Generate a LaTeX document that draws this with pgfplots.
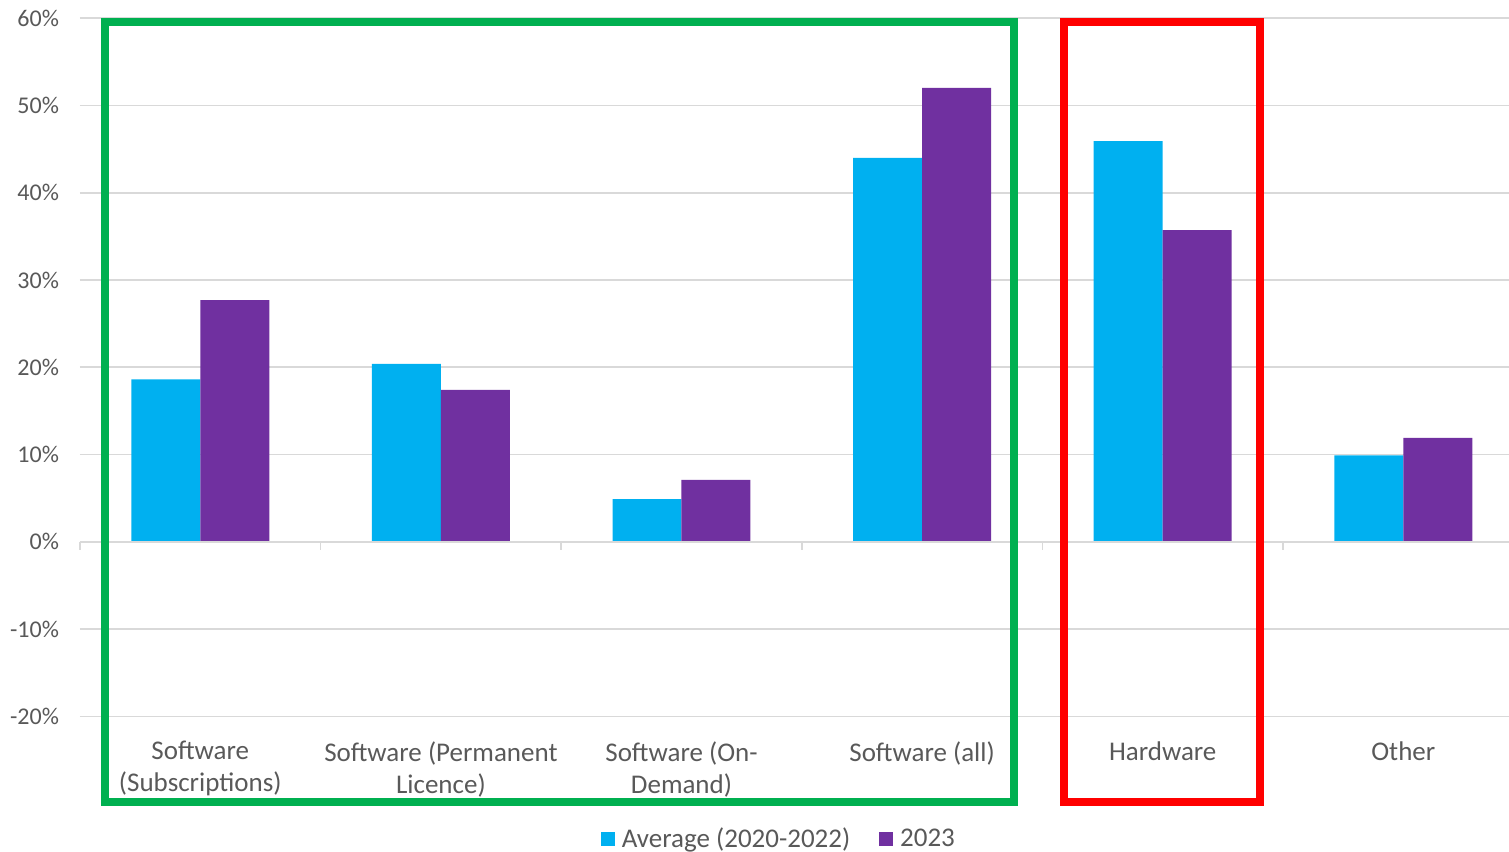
\documentclass[border=0pt]{standalone}
\usepackage{pgfplots}
\pgfplotsset{compat=1.18}
\usepackage{fontspec}
\setmainfont{Carlito}
\usetikzlibrary{calc}

\definecolor{avgblue}{HTML}{00B0F0}
\definecolor{yrpurple}{HTML}{7030A0}
\definecolor{boxgreen}{HTML}{00B050}
\definecolor{boxred}{HTML}{FF0000}
\definecolor{gridgray}{HTML}{D9D9D9}
\definecolor{labelgray}{HTML}{595959}

% share of revenue by category, percent
\pgfplotstableread{
x avg   y2023
0 18.6  27.7
1 20.4  17.4
2  4.9   7.1
3 44.0  52.0
4 45.9  35.7
5  9.9  11.9
}\revenue

\begin{document}
\begin{tikzpicture}
\begin{axis}[
  scale only axis,
  width=722pt, height=349.15pt,
  xmin=-0.5, xmax=5.5,
  ymin=-20, ymax=60,
  clip=false,
  axis line style={draw=none},
  major tick length=0pt,
  ytick={-20,-10,...,60},
  yticklabels={-20\%,-10\%,0\%,10\%,20\%,30\%,40\%,50\%,60\%},
  yticklabel style={font=\fontsize{12}{14}\selectfont, text=labelgray, xshift=-7pt},
  ymajorgrids,
  grid style={gridgray, line width=0.8pt},
  xtick={0,...,5},
  xticklabels={
    Software\\(Subscriptions),
    Software (Permanent\\Licence),
    Software (On-\\Demand),
    Software (all),
    Hardware,
    Other},
  xticklabel style={font=\fontsize{13.5}{16}\selectfont, text=labelgray,
    align=center, anchor=north, yshift=-9pt},
  legend style={at={(0.3608,-0.1755)}, anchor=west, draw=none,
    inner sep=0pt, outer sep=0pt,
    font=\fontsize{13.5}{16}\selectfont, text=labelgray,
    legend columns=2,
    /tikz/every even column/.append style={column sep=12.5pt}},
  legend image code/.code={\fill[#1] (0pt,-3.5pt) rectangle (7pt,3.5pt);
    \path (8.5pt,0pt);},
]
\addplot[ybar, bar width=0.2867, bar shift=-0.14335, fill=avgblue, draw=none]
  table[x=x, y=avg] {\revenue};
\addlegendentry{Average (2020-2022)}
\addplot[ybar, bar width=0.2867, bar shift=0.14335, fill=yrpurple, draw=none]
  table[x=x, y=y2023] {\revenue};
\addlegendentry{2023}

% zero line with category boundary ticks
\draw[gridgray, line width=0.8pt] (axis cs:-0.5,0) -- (axis cs:5.5,0);
\pgfplotsinvokeforeach{-0.5,0.5,1.5,2.5,3.5,4.5}{
  \draw[gridgray, line width=0.8pt] (axis cs:#1,0) -- (axis cs:#1,-0.92);
}

% highlight frames: software group and hardware
\draw[boxgreen, line width=4pt] (axis cs:-0.396,59.6) rectangle (axis cs:3.380,-29.8);
\draw[boxred, line width=4pt] (axis cs:3.588,59.6) rectangle (axis cs:4.406,-29.8);
\end{axis}
\pgfresetboundingbox
\path ($(current axis.south west)+(-40pt,-67.75pt)$) rectangle ($(current axis.north east)+(-7.3pt,9.1pt)$);
\end{tikzpicture}
\end{document}
